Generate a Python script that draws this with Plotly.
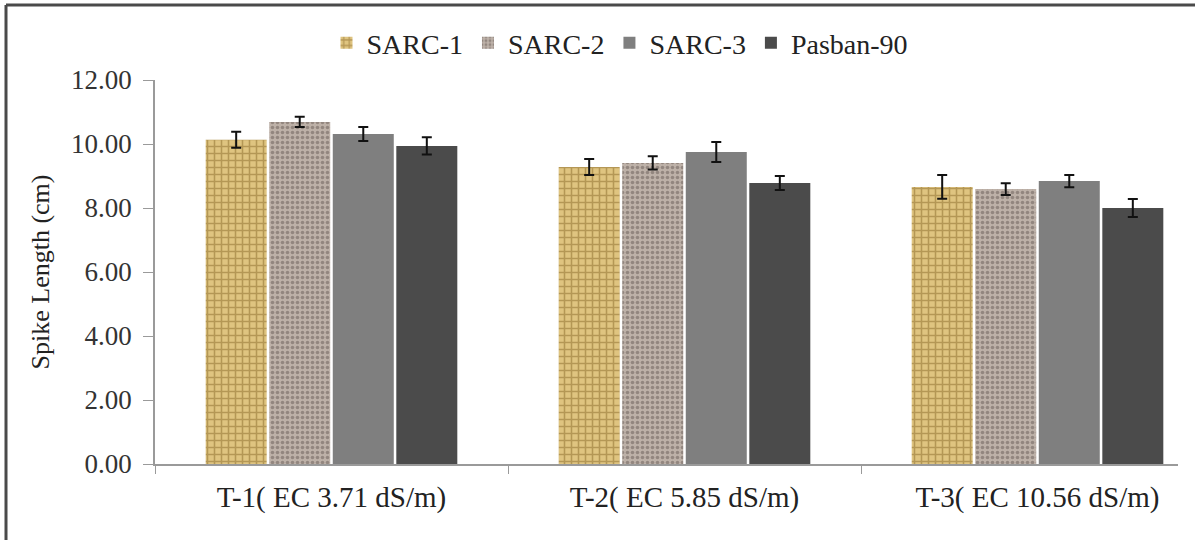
import plotly.graph_objects as go

categories = ["T-1( EC 3.71 dS/m)", "T-2( EC 5.85 dS/m)", "T-3( EC 10.56 dS/m)"]
series_names = ["SARC-1", "SARC-2", "SARC-3", "Pasban-90"]
sarc1 = [10.13, 9.28, 8.66]
sarc2 = [10.69, 9.41, 8.59]
sarc3 = [10.31, 9.75, 8.84]
pasban = [9.94, 8.78, 8.00]
sarc1_err = [0.25, 0.25, 0.37]
sarc2_err = [0.16, 0.21, 0.18]
sarc3_err = [0.22, 0.31, 0.19]
pasban_err = [0.27, 0.22, 0.28]
y_ticks = [0, 2, 4, 6, 8, 10, 12]

SERIF = "Liberation Serif"

values = [sarc1, sarc2, sarc3, pasban]
errors = [sarc1_err, sarc2_err, sarc3_err, pasban_err]
styles = [
    dict(color="#dcc07c", pattern=dict(shape="+", fgcolor="#8a6a2a", bgcolor="#dfc480", size=7, solidity=0.4)),
    dict(color="#bbafa5", pattern=dict(shape=".", fgcolor="#675c55", bgcolor="#bdb1a8", size=5, solidity=0.4)),
    dict(color="#7f7f7f"),
    dict(color="#4b4b4b"),
]

fig = go.Figure()
for name, vals, errs, st in zip(series_names, values, errors, styles):
    fig.add_trace(go.Bar(
        x=categories, y=vals, name=name,
        marker=dict(line=dict(width=0), **st),
        error_y=dict(type="data", array=errs, visible=True, color="#111111", thickness=2, width=5),
    ))

# plot area in px: x 155..1178, y 80..464
L, R, T, B = 155, 1178, 80, 464
W, H = R - L, B - T
def px(x):
    return (x - L) / W
def py(y):
    return (B - y) / H

fig.update_layout(
    width=1195, height=540,
    margin=dict(l=L, r=1195 - R, t=T, b=540 - B),
    paper_bgcolor="white", plot_bgcolor="white",
    barmode="group", bargap=0.28, bargroupgap=0.04,
    font=dict(family=SERIF, color="#222222"),
    showlegend=True,
    legend=dict(orientation="h", x=px(620), xanchor="center", y=py(43), yanchor="middle",
                font=dict(size=28, family=SERIF, color="#222222"),
                itemwidth=30, tracegroupgap=0, bgcolor="rgba(0,0,0,0)"),
    xaxis=dict(range=[-0.5, 2.398], showline=True, linecolor="#9a9a9a", linewidth=1.5,
               ticks="outside", tickson="boundaries", ticklen=8, tickcolor="#9a9a9a",
               tickfont=dict(size=29, family=SERIF, color="#222222"),
               ticklabelstandoff=6,
               showgrid=False, zeroline=False),
    yaxis=dict(range=[0, 12], tickvals=y_ticks, ticktext=[f"{v:.2f}" for v in y_ticks],
               showline=True, linecolor="#9a9a9a", linewidth=1.5,
               ticks="outside", ticklen=10, tickcolor="#9a9a9a",
               tickfont=dict(size=27, family=SERIF, color="#333333"),
               ticklabelstandoff=6,
               showgrid=False, zeroline=False,
               title=dict(text="Spike Length (cm)", font=dict(size=26, family=SERIF, color="#222222"), standoff=14)),
    shapes=[
        dict(type="line", xref="paper", yref="paper", x0=px(6), x1=px(1195), y0=py(5), y1=py(5),
             line=dict(color="#4a4a4a", width=3)),
        dict(type="line", xref="paper", yref="paper", x0=px(6), x1=px(6), y0=py(5), y1=py(540),
             line=dict(color="#4a4a4a", width=3)),
    ],
)

fig.write_html("out.html")
